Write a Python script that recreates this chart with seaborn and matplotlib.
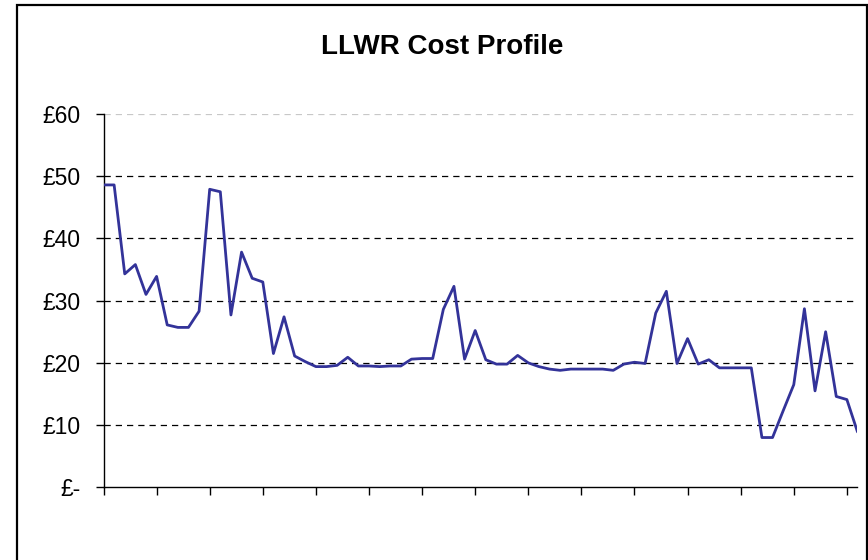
import matplotlib
matplotlib.use("Agg")
import matplotlib.pyplot as plt
import seaborn as sns
import pandas as pd
from matplotlib.patches import Rectangle

# ---- data ----
cost = [48.6, 48.6, 34.3, 35.8, 31.0, 33.9, 26.1, 25.7, 25.7, 28.3,
        47.9, 47.5, 27.7, 37.8, 33.6, 33.0, 21.5, 27.4, 21.1, 20.2,
        19.4, 19.4, 19.6, 20.9, 19.5, 19.5, 19.4, 19.5, 19.5, 20.6,
        20.7, 20.7, 28.6, 32.3, 20.6, 25.2, 20.5, 19.8, 19.8, 21.2,
        20.0, 19.4, 19.0, 18.8, 19.0, 19.0, 19.0, 19.0, 18.8, 19.8,
        20.1, 19.9, 28.0, 31.5, 19.9, 23.9, 19.8, 20.5, 19.2, 19.2,
        19.2, 19.2, 8.0, 8.0, 12.3, 16.5, 28.7, 15.5, 25.0, 14.6,
        14.1, 8.9]
period = list(range(len(cost)))
y_ticks = [0, 10, 20, 30, 40, 50, 60]
y_labels = ["£-", "£10", "£20", "£30", "£40", "£50", "£60"]
title = "LLWR Cost Profile"

df = pd.DataFrame({"period": period, "cost": cost})

sns.set_style("white")
plt.rcParams["font.family"] = ["Liberation Sans", "DejaVu Sans"]
plt.rcParams["text.color"] = "black"
plt.rcParams["ytick.color"] = "black"
plt.rcParams["xtick.color"] = "black"

W, H = 868, 560
fig = plt.figure(figsize=(W / 100, H / 100), dpi=100)
ax = fig.add_axes([103.5 / W, 1 - 487.3 / H, (857.5 - 103.5) / W, (487.3 - 114) / H])

# gridlines
for v in y_ticks[1:]:
    col = "#c8c8c8" if v == 60 else "#000000"
    ax.axhline(v, color=col, lw=0.9, dashes=(5, 4), zorder=1)

sns.lineplot(data=df, x="period", y="cost", ax=ax, color="#333399",
             lw=2.0, zorder=3)

ax.set_xlim(0, 71)
ax.set_ylim(0, 60)
ax.set_yticks(y_ticks)
ax.set_yticklabels(y_labels, fontsize=16.5, color="black")
ax.set_xticks(list(range(0, 71, 5)))
ax.set_xticklabels([])
ax.set_xlabel("")
ax.set_ylabel("")

for s in ["top", "right"]:
    ax.spines[s].set_visible(False)
for s in ["left", "bottom"]:
    ax.spines[s].set_color("black")
    ax.spines[s].set_linewidth(1.0)
ax.tick_params(axis="y", direction="out", length=5.5, width=1, color="black",
               pad=11, left=True)
ax.tick_params(axis="x", direction="out", length=6, width=1, color="black",
               bottom=True)
ax.grid(False)

# chart-area border
fig.patches.append(Rectangle((16.5 / W, -0.05), (866.5 - 16.5) / W, 1.05 - 5 / H,
                             transform=fig.transFigure, fill=False,
                             edgecolor="black", lw=1.6, zorder=10))

fig.text(442 / W, 1 - 47 / H, title, ha="center", va="center",
         fontsize=20, fontweight="bold", color="black")

fig.savefig("out.png", dpi=100, facecolor="white")
